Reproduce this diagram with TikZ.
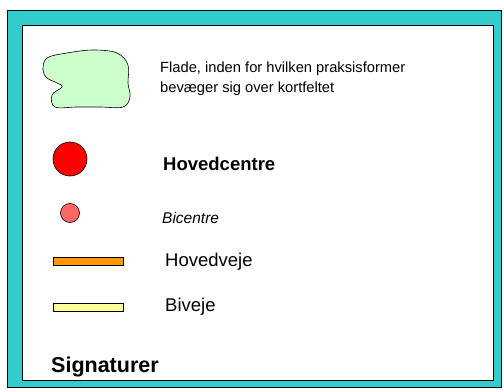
\documentclass[tikz,border=0pt]{standalone}
\usepackage{fontspec}
\setmainfont{Liberation Sans}
\usetikzlibrary{positioning}
\definecolor{frameteal}{HTML}{33CCCC}
\definecolor{flatgreen}{HTML}{CCFFCC}
\definecolor{mainred}{HTML}{FF0000}
\definecolor{subred}{HTML}{FF6666}
\definecolor{mainroad}{HTML}{FF9900}
\definecolor{subroad}{HTML}{FFFF99}
\tikzset{x=1pt, y=-1pt, % one unit is one pixel of the legend, y downwards
legendtext/.style={ % Sets the properties for the legend texts
anchor=west, inner sep=0pt, font=\fontsize{18.5}{21}\selectfont},
symbol/.style={ % outline of every legend symbol
draw=black, line width=0.6pt},
roadbar/.style={ % a road sample
symbol, minimum width=70pt, minimum height=8pt, inner sep=0pt}}

\begin{document}
\begin{tikzpicture}
    \useasboundingbox (0,0) rectangle (503,390);
    
    \draw[fill=frameteal, line width=0.8pt] (7,10) rectangle (501,387);
    \draw[fill=white, line width=0.8pt] (22,25) rectangle (493,380);
    
    \draw[symbol, fill=flatgreen] plot[smooth cycle, tension=0.6] coordinates {
        (47,58) (67,53) (93,50) (117,53) (128,65) (128,83) (130,97) (123,107)
        (100,107) (77,107) (55,107) (52,95) (62,87) (57,83) (47,78) (43,70)};
    \coordinate (flade) at (160,78.5);
    
    \node[symbol, circle, fill=mainred, minimum size=34pt, inner sep=0pt] (hc) at (70,159) {};
    \node[symbol, circle, fill=subred, minimum size=19pt, inner sep=0pt] (bc) at (70,213) {};
    \node[roadbar, fill=mainroad] (hv) at (88,261) {};
    \node[roadbar, fill=subroad] (bv) at (88,307) {};
    
    \node[legendtext, align=left, font=\fontsize{14.7}{20.5}\selectfont] (fladetxt) at (flade) {Flade, inden for hvilken praksisformer\\bevæger sig over kortfeltet};
    \node[legendtext, font=\fontsize{18.5}{21}\bfseries] (hctxt) at (163,164) {Hovedcentre};
    \node[legendtext, font=\fontsize{15.5}{18}\itshape] (bctxt) at (162,218) {Bicentre};
    \node[legendtext] (hvtxt) at (165,262) {Hovedveje};
    \node[legendtext] (bvtxt) at (165,307) {Biveje};
    \node[legendtext, font=\fontsize{21.5}{24}\bfseries] (sig) at (51,367) {Signaturer};
    
\end{tikzpicture}
\end{document}
